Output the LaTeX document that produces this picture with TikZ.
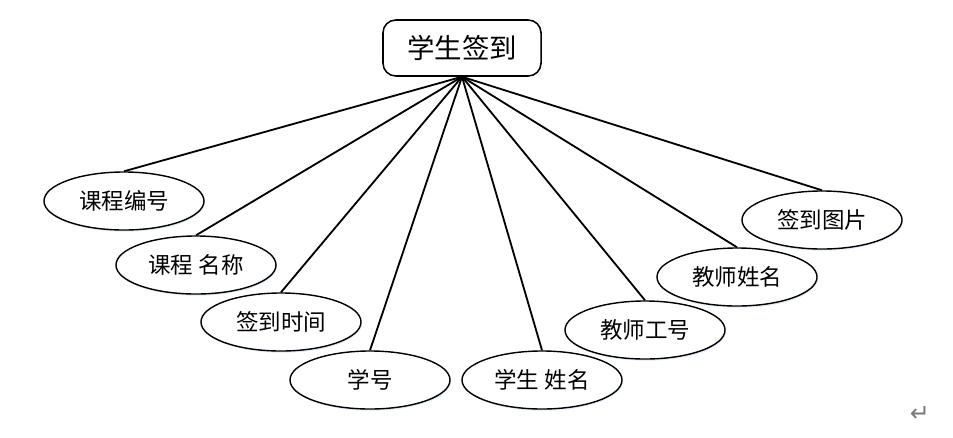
\documentclass[tikz,border=0pt]{standalone}
\usepackage{fontspec}
\usepackage{xcolor}
\usetikzlibrary{shapes.geometric,shadows}
\newfontfamily\cjk{Noto Sans CJK SC}
\newfontfamily\symfont{DejaVu Sans}
\definecolor{edgeblack}{RGB}{0,0,0}
\definecolor{glowblue}{RGB}{225,235,250}
\definecolor{markgray}{RGB}{120,120,120}
\tikzset{
    entity/.style={draw=edgeblack, line width=1.1pt, rounded corners=0.32cm,
        minimum width=3.95cm, minimum height=1.4cm, inner sep=0pt,
        fill=white, font=\cjk\fontsize{19.5}{21}\selectfont},
    attrib/.style={ellipse, draw=edgeblack, line width=1pt,
        minimum width=4.0cm, minimum height=1.45cm, inner sep=0pt,
        fill=white, font=\cjk\fontsize{16}{17}\selectfont,
        general shadow={fill=glowblue, shadow xshift=0.6pt, shadow yshift=-1.2pt}},
    link/.style={draw=edgeblack, line width=1.3pt}
}

\begin{document}
\begin{tikzpicture}[x=0.025cm, y=-0.025cm]
\useasboundingbox (0,0) rectangle (953,437);

% 1. ENTITY
\node[entity] (sign) at (462,48) {学生签到};

% 2. ATTRIBUTES (left to right)
\node[attrib] (courseid)   at (124,201) {课程编号};
\node[attrib] (coursename) at (196,265) {课程 名称};
\node[attrib] (signtime)   at (281,322) {签到时间};
\node[attrib] (stuid)      at (370,380) {学号};
\node[attrib] (stuname)    at (542,380) {学生 姓名};
\node[attrib] (teachid)    at (645,330) {教师工号};
\node[attrib] (teachname)  at (737,277) {教师姓名};
\node[attrib] (signpic)    at (822,220) {签到图片};

% 3. LINKS
\foreach \a in {courseid, coursename, signtime, stuid, stuname, teachid, teachname, signpic} {
    \draw[link] (sign.south) -- (\a.north);
}

% Paragraph mark
\node[text=markgray, font=\symfont\fontsize{17}{18}\selectfont] (mark) at (920,414) {↵};

\end{tikzpicture}
\end{document}
